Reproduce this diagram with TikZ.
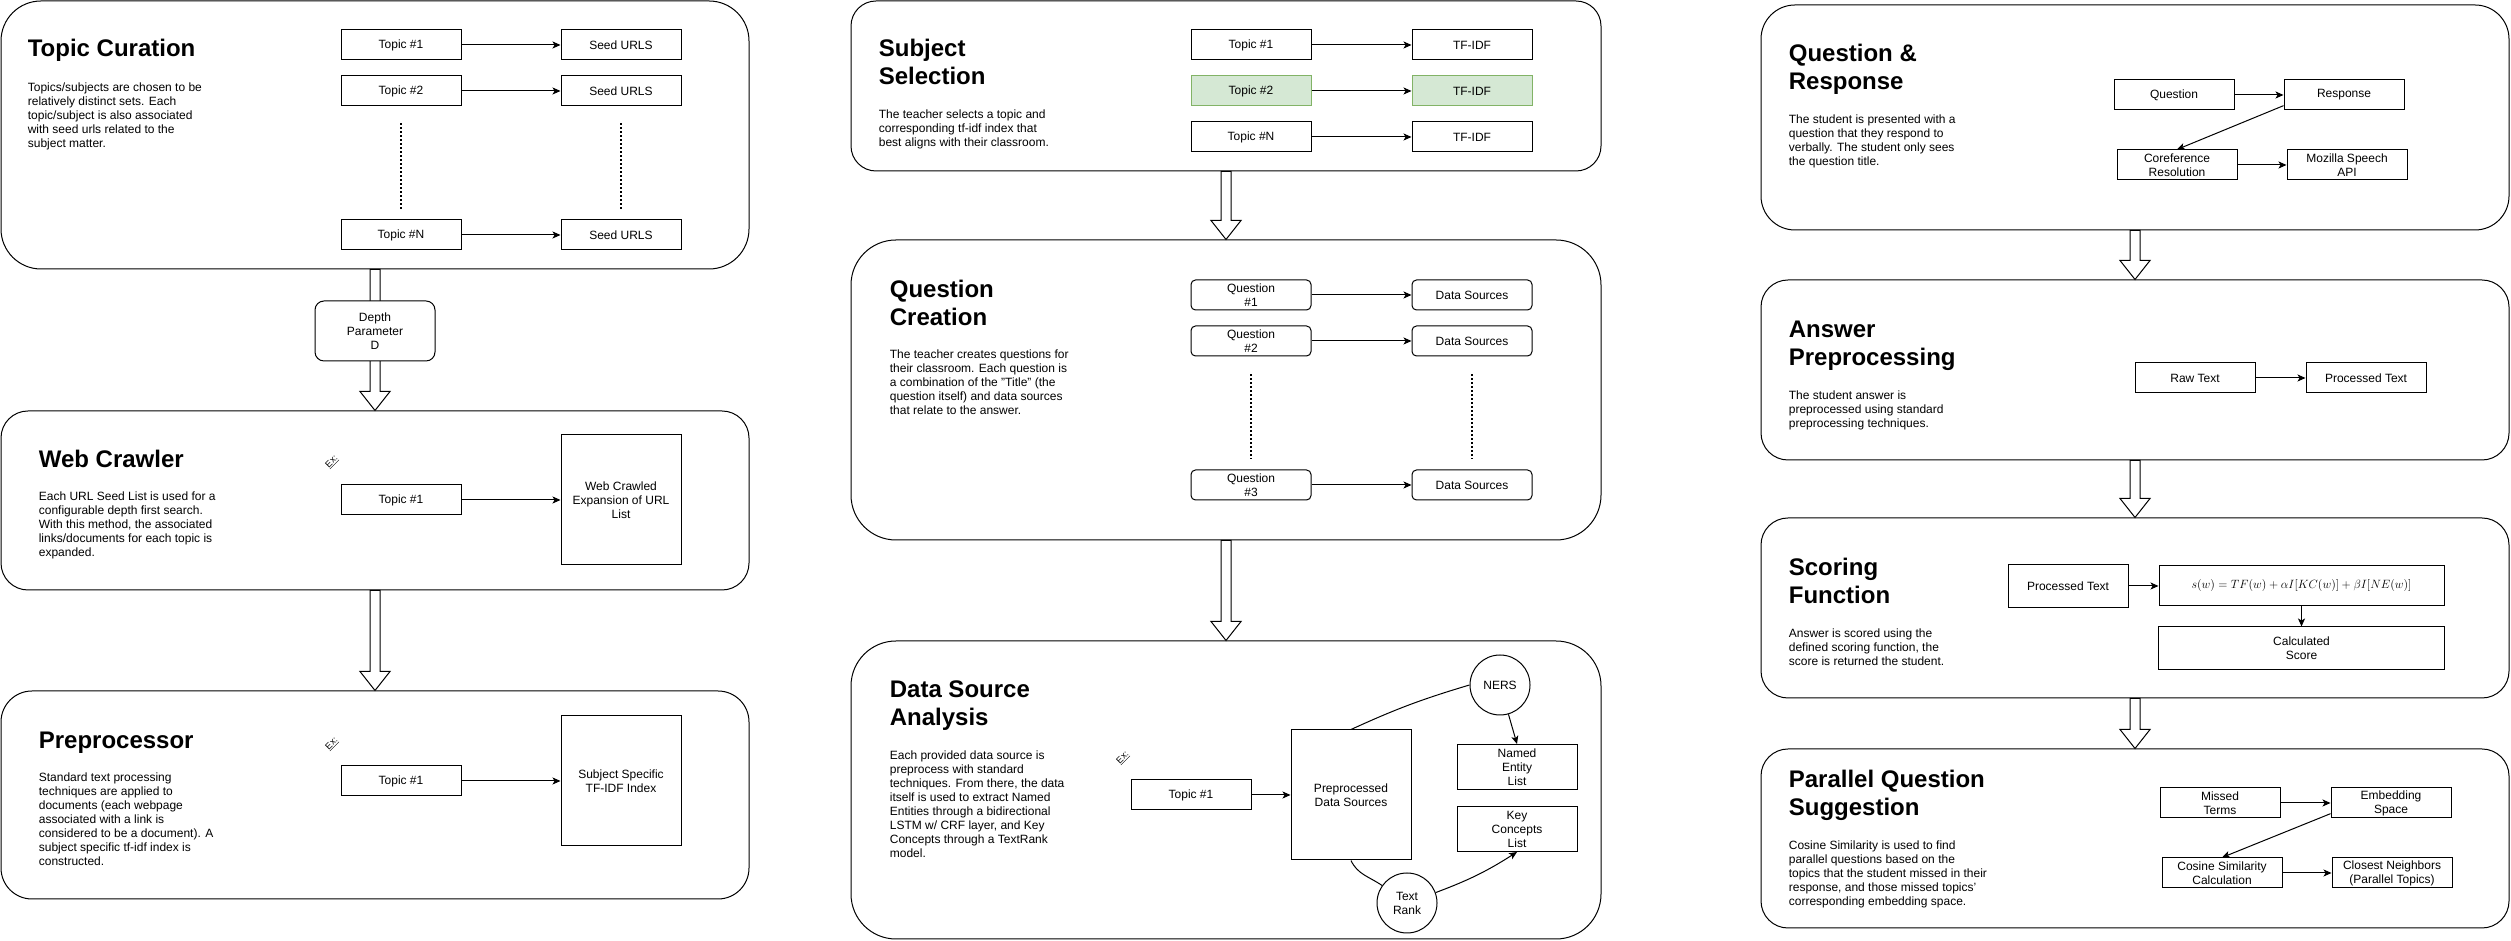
\documentclass[tikz,border=0pt]{standalone}
\usepackage{fontspec}
\setmainfont{Liberation Sans}
\usetikzlibrary{arrows.meta,positioning,calc}

\definecolor{pickfill}{HTML}{D5E8D4}
\definecolor{pickline}{HTML}{82B366}

% hollow block arrow between two stages
\newcommand{\flowarrow}[2]{%
  \draw[-, fill=white] let \p1=(#1.south), \p2=(#2.north) in
    (\x1-5pt,\y1) -- (\x1-5pt,\y2+19pt) -- (\x1-15pt,\y2+19pt) -- (\x1,\y2)
    -- (\x1+15pt,\y2+19pt) -- (\x1+5pt,\y2+19pt) -- (\x1+5pt,\y1) -- cycle;}

\begin{document}
\begin{tikzpicture}[->, >={Stealth[length=8pt,width=7pt,inset=2pt]}, x=1pt, y=1pt, line width=1pt,
                    font=\fontsize{12}{14}\selectfont,
                    stage/.style={draw, inner sep=0pt, minimum width=748pt},
                    box/.style={draw, fill=white, inner sep=0pt, minimum width=120pt, minimum height=30pt, align=center},
                    soft box/.style={box, rounded corners=4.5pt},
                    tall box/.style={box, minimum height=130pt},
                    picked/.style={fill=pickfill, draw=pickline},
                    disc/.style={circle, draw, inner sep=0pt, minimum size=60pt, align=center},
                    heading/.style={anchor=base west, align=left, font=\fontsize{24}{28}\selectfont\bfseries},
                    blurb/.style={anchor=base west, align=left},
                    dots/.style={-, line width=2pt, dash pattern=on 2pt off 2pt},
                    exicon/.style={rotate=45, inner sep=0pt, font=\fontsize{9}{9}\selectfont}]
  \useasboundingbox (0,0) rectangle (2511,941);

  % stages
  \node[stage, minimum height=268pt, rounded corners=40pt] (cur) at (375,806) {};
  \node[stage, minimum height=179pt, rounded corners=27pt] (crawl) at (375,440.5) {};
  \node[stage, minimum height=208pt, rounded corners=31pt] (pre) at (375,146) {};
  \node[stage, minimum width=750pt, minimum height=170pt, rounded corners=25pt] (subj) at (1226,855) {};
  \node[stage, minimum width=750pt, minimum height=300pt, rounded corners=45pt] (qc) at (1226,551) {};
  \node[stage, minimum width=750pt, minimum height=298pt, rounded corners=45pt] (dsa) at (1226,151) {};
  \node[stage, minimum height=225pt, rounded corners=34pt] (qr) at (2135,823.5) {};
  \node[stage, minimum height=180pt, rounded corners=27pt] (ans) at (2135,571) {};
  \node[stage, minimum height=180pt, rounded corners=27pt] (score) at (2135,333) {};
  \node[stage, minimum height=179pt, rounded corners=27pt] (par) at (2135,102.5) {};

  \flowarrow{cur}{crawl}
  \flowarrow{crawl}{pre}
  \flowarrow{subj}{qc}
  \flowarrow{qc}{dsa}
  \flowarrow{qr}{ans}
  \flowarrow{ans}{score}
  \flowarrow{score}{par}

  % topic curation (text nodes sit on their last baseline)
  \node[heading] (curT) at (24,884) {Topic Curation};
  \node[blurb] (curB) at (24,793.5) {Topics/subjects are chosen to be\\relatively distinct sets. Each\\topic/subject is also associated\\with seed urls related to the\\subject matter.};
  \node[box] (t1) at (401,896) {Topic \#1};
  \node[box] (s1) [right=99pt of t1] {Seed URLS};
  \node[box] (t2) [below=15pt of t1] {Topic \#2};
  \node[box] (s2) [right=99pt of t2] {Seed URLS};
  \node[box] (tN) at (401,706) {Topic \#N};
  \node[box] (sN) [right=99pt of tN] {Seed URLS};
  \draw[dots] ([yshift=-17pt]t2.south) -- ([yshift=10pt]tN.north);
  \draw[dots] ([yshift=-17pt]s2.south) -- ([yshift=10pt]sN.north);
  \path (t1) edge (s1)
        (t2) edge (s2)
        (tN) edge (sN);

  \node[box, minimum height=60pt, rounded corners=9pt] (depth) at (375,610) {Depth\\Parameter\\D};

  % web crawler
  \node[heading] (crawlT) at (35,473) {Web Crawler};
  \node[blurb] (crawlB) at (35,384) {Each URL Seed List is used for a\\configurable depth first search.\\With this method, the associated\\links/documents for each topic is\\expanded.};
  \node[exicon] (ex1) at (332,479) {\underline{Ex:}};
  \node[box] (w1) at (401,441) {Topic \#1};
  \node[tall box] (wlist) [right=99pt of w1] {Web Crawled\\Expansion of URL\\List};
  \path (w1) edge (wlist);

  % preprocessor
  \node[heading] (preT) at (35,192) {Preprocessor};
  \node[blurb] (preB) at (35,75) {Standard text processing\\techniques are applied to\\documents (each webpage\\associated with a link is\\considered to be a document). A\\subject specific tf-idf index is\\constructed.};
  \node[exicon] (ex2) at (332,197) {\underline{Ex:}};
  \node[box] (p1) at (401,160) {Topic \#1};
  \node[tall box] (pidx) [right=99pt of p1] {Subject Specific\\TF-IDF Index};
  \path (p1) edge (pidx);

  % subject selection
  \node[heading] (subjT) at (875,856) {Subject\\Selection};
  \node[blurb] (subjB) at (875,794) {The teacher selects a topic and\\corresponding tf-idf index that\\best aligns with their classroom.};
  \node[box] (st1) at (1251,896) {Topic \#1};
  \node[box] (tf1) [right=100pt of st1] {TF-IDF};
  \node[box, picked] (st2) [below=15pt of st1] {Topic \#2};
  \node[box, picked] (tf2) [right=100pt of st2] {TF-IDF};
  \node[box] (stN) [below=15pt of st2] {Topic \#N};
  \node[box] (tfN) [right=100pt of stN] {TF-IDF};
  \path (st1) edge (tf1)
        (st2) edge (tf2)
        (stN) edge (tfN);

  % question creation
  \node[heading] (qcT) at (886,615) {Question\\Creation};
  \node[blurb] (qcB) at (886,526) {The teacher creates questions for\\their classroom. Each question is\\a combination of the "Title" (the\\question itself) and data sources\\that relate to the answer.};
  \node[soft box] (q1) at (1251,646) {Question\\\#1};
  \node[soft box] (d1) [right=100pt of q1] {Data Sources};
  \node[soft box] (q2) [below=15pt of q1] {Question\\\#2};
  \node[soft box] (d2) [right=100pt of q2] {Data Sources};
  \node[soft box] (q3) at (1251,456) {Question\\\#3};
  \node[soft box] (d3) [right=100pt of q3] {Data Sources};
  \draw[dots] ([yshift=-18pt]q2.south) -- ([yshift=10pt]q3.north);
  \draw[dots] ([yshift=-18pt]d2.south) -- ([yshift=10pt]d3.north);
  \path (q1) edge (d1)
        (q2) edge (d2)
        (q3) edge (d3);

  % data source analysis
  \node[heading] (dsaT) at (886,215) {Data Source\\Analysis};
  \node[blurb] (dsaB) at (886,83) {Each provided data source is\\preprocess with standard\\techniques. From there, the data\\itself is used to extract Named\\Entities through a bidirectional\\LSTM w/ CRF layer, and Key\\Concepts through a TextRank\\model.};
  \node[exicon] (ex3) at (1123,183) {\underline{Ex:}};
  \node[box] (dt) at (1191,146) {Topic \#1};
  \node[tall box] (ppd) [right=39pt of dt] {Preprocessed\\Data Sources};
  \node[disc] (ners) at (1500,256) {NERS};
  \node[box, minimum height=45pt] (ne) at (1517,174) {Named\\Entity\\List};
  \node[box, minimum height=45pt] (kc) [below=16pt of ne] {Key\\Concepts\\List};
  \node[disc] (tr) at (1407,38) {Text\\Rank};
  \path (dt) edge (ppd)
        (ppd.north) edge[-, bend left=4] (ners.west)
        (ppd.south) edge[-, out=-65, in=145] (tr)
        (ners) edge (ne.north)
        (tr.20) edge[bend right=6] (kc.south);

  % question & response
  \node[heading] (qrT) at (1785,851) {Question \&\\Response};
  \node[blurb] (qrB) at (1785,775) {The student is presented with a\\question that they respond to\\verbally. The student only sees\\the question title.};
  \node[box] (qq) at (2174,846) {Question};
  \node[box] (resp) [right=49pt of qq] {Response};
  \node[box] (coref) at (2177,776) {Coreference\\Resolution};
  \node[box] (moz) [right=49pt of coref] {Mozilla Speech\\API};
  \path (qq) edge (resp)
        (resp.190) edge (coref.north)
        (coref) edge (moz);

  % answer preprocessing
  \node[heading] (ansT) at (1785,575) {Answer\\Preprocessing};
  \node[blurb] (ansB) at (1785,513) {The student answer is\\preprocessed using standard\\preprocessing techniques.};
  \node[box] (raw) at (2195,563) {Raw Text};
  \node[box] (proc) [right=50pt of raw] {Processed Text};
  \path (raw) edge (proc);

  % scoring function
  \node[heading] (scoreT) at (1785,337) {Scoring\\Function};
  \node[blurb] (scoreB) at (1785,275) {Answer is scored using the\\defined scoring function, the\\score is returned the student.};
  \node[box, minimum height=43pt] (ptext) at (2068,355) {Processed Text};
  \node[box, minimum width=285pt, minimum height=40pt] (form) [right=30pt of ptext] {$s(w) = TF(w) + \alpha I[KC(w)] + \beta I[NE(w)]$};
  \node[box, minimum width=286pt, minimum height=43pt] (total) [below=20pt of form] {Calculated\\Score};
  \path (ptext) edge (form)
        (form) edge (total);

  % parallel question suggestion
  \node[heading] (parT) at (1785,125) {Parallel Question\\Suggestion};
  \node[blurb] (parB) at (1785,35) {Cosine Similarity is used to find\\parallel questions based on the\\topics that the student missed in their\\response, and those missed topics'\\corresponding embedding space.};
  \node[box] (miss) at (2220,138) {Missed\\Terms};
  \node[box] (emb) [right=50pt of miss] {Embedding\\Space};
  \node[box] (cos) at (2222,68) {Cosine Similarity\\Calculation};
  \node[box] (near) [right=49pt of cos] {Closest Neighbors\\(Parallel Topics)};
  \path (miss) edge (emb)
        (emb.190) edge (cos.north)
        (cos) edge (near);
\end{tikzpicture}
\end{document}
